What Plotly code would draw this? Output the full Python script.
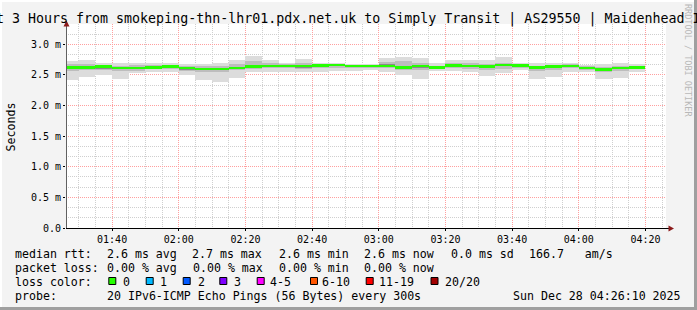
import plotly.graph_objects as go
import pandas as pd

# ---------------- data ----------------
end_times = ["01:30", "01:35", "01:40", "01:45", "01:50", "01:55", "02:00", "02:05", "02:10",
             "02:15", "02:20", "02:25", "02:30", "02:35", "02:40", "02:45", "02:50", "02:55",
             "03:00", "03:05", "03:10", "03:15", "03:20", "03:25", "03:30", "03:35", "03:40",
             "03:45", "03:50", "03:55", "04:00", "04:05", "04:10", "04:15", "04:20"]

median_ms = [2.62, 2.62, 2.64, 2.61, 2.61, 2.62, 2.64, 2.61, 2.595, 2.60, 2.61, 2.64, 2.645,
             2.65, 2.65, 2.655, 2.66, 2.65, 2.65, 2.645, 2.62, 2.65, 2.62, 2.655, 2.645, 2.64,
             2.665, 2.655, 2.62, 2.64, 2.65, 2.615, 2.585, 2.61, 2.62]

smoke_min = [2.42, 2.46, 2.50, 2.435, 2.53, 2.555, 2.54, 2.50, 2.41, 2.39, 2.445, 2.555, 2.555,
             2.555, 2.54, 2.555, 2.57, 2.57, 2.58, 2.555, 2.50, 2.43, 2.57, 2.57, 2.555, 2.484,
             2.527, 2.58, 2.43, 2.46, 2.555, 2.54, 2.43, 2.445, 2.555]
smoke_max = [2.72, 2.745, 2.69, 2.69, 2.69, 2.69, 2.70, 2.68, 2.68, 2.70, 2.745, 2.81, 2.745,
             2.70, 2.756, 2.69, 2.69, 2.68, 2.68, 2.77, 2.79, 2.77, 2.70, 2.745, 2.745, 2.745,
             2.79, 2.69, 2.70, 2.70, 2.70, 2.66, 2.68, 2.69, 2.68]

mid_lo = [2.57, 2.58, 2.58, 2.57, 2.57, 2.59, 2.59, 2.56, 2.55, 2.55, 2.58, 2.60, 2.61, 2.61,
          2.59, 2.62, 2.62, 2.62, 2.62, 2.61, 2.58, 2.58, 2.60, 2.62, 2.60, 2.58, 2.60, 2.62,
          2.57, 2.58, 2.62, 2.58, 2.55, 2.57, 2.59]
mid_hi = [2.68, 2.68, 2.66, 2.65, 2.66, 2.66, 2.67, 2.65, 2.64, 2.65, 2.68, 2.72, 2.69, 2.68,
          2.69, 2.67, 2.68, 2.67, 2.67, 2.71, 2.72, 2.70, 2.65, 2.69, 2.69, 2.68, 2.70, 2.67,
          2.65, 2.66, 2.68, 2.64, 2.63, 2.65, 2.65]

dark_lo = [2.60, 2.60, 2.60, 2.59, 2.59, 2.60, 2.61, 2.58, 2.575, 2.575, 2.59, 2.62, 2.63, 2.63,
           2.62, 2.64, 2.64, 2.64, 2.635, 2.63, 2.60, 2.61, 2.61, 2.64, 2.63, 2.61, 2.64, 2.64,
           2.60, 2.61, 2.635, 2.60, 2.57, 2.59, 2.605]
dark_hi = [2.64, 2.64, 2.655, 2.63, 2.63, 2.64, 2.655, 2.625, 2.61, 2.62, 2.635, 2.665, 2.665,
           2.665, 2.665, 2.67, 2.675, 2.665, 2.665, 2.68, 2.65, 2.67, 2.635, 2.67, 2.665, 2.66,
           2.68, 2.67, 2.635, 2.655, 2.665, 2.63, 2.60, 2.63, 2.635]

y_tick_vals = [0.0, 0.5, 1.0, 1.5, 2.0, 2.5, 3.0]
y_tick_text = ["0.0", "0.5 m", "1.0 m", "1.5 m", "2.0 m", "2.5 m", "3.0 m"]

title_text = ("Last 3 Hours from smokeping-thn-lhr01.pdx.net.uk to Simply Transit | "
              "AS29550 | Maidenhead IX")
rtt_stats = ["2.6 ms avg", "2.7 ms max", "2.6 ms min", "2.6 ms now", "0.0 ms sd", "166.7   am/s"]
loss_stats = ["0.00 % avg", "0.00 % max", "0.00 % min", "0.00 % now"]
loss_labels = ["0", "1", "2", "3", "4-5", "6-10", "11-19", "20/20"]
loss_colors = ["#26ff00", "#00b8ff", "#0059ff", "#7f00ff", "#ff00ff", "#ff5500", "#ff0000", "#a10000"]
probe_text = "20 IPv6-ICMP Echo Pings (56 Bytes) every 300s"
date_text = "Sun Dec 28 04:26:10 2025"

# ---------------- geometry ----------------
W, H = 697, 310
L, R, T, B = 66, 31, 24, 82
PW = W - L - R
PH = H - T - B
Y_MAX = 3.3316

def px(x):
    return (x - L) / PW

def py(y):
    return (H - B - y) / PH

day = "2025-12-28 "
ends = pd.to_datetime([day + t for t in end_times])
centers = ends - pd.Timedelta(minutes=2.5)
BAR_W = 5 * 60 * 1000

fig = go.Figure()
for lo, hi, col in [(smoke_min, smoke_max, "#dcdcdc"),
                    (mid_lo, mid_hi, "#bdbdbd"),
                    (dark_lo, dark_hi, "#8a8a8a")]:
    fig.add_trace(go.Bar(x=centers, base=lo, y=[h - l for l, h in zip(lo, hi)],
                         width=BAR_W, marker=dict(color=col, line=dict(width=0)),
                         hoverinfo="skip", showlegend=False))
fig.add_trace(go.Bar(x=centers, base=[m - 0.02 for m in median_ms], y=[0.04] * len(median_ms),
                     width=BAR_W, marker=dict(color="#26ff00", line=dict(width=0)),
                     hoverinfo="skip", showlegend=False))

MONO = "DejaVu Sans Mono"
fig.update_layout(
    width=W, height=H, margin=dict(l=L, r=R, t=T, b=B, pad=0),
    paper_bgcolor="#f3f3f3", plot_bgcolor="#ffffff",
    barmode="overlay", bargap=0, showlegend=False,
    font=dict(family=MONO, color="#000000"),
)
fig.update_xaxes(
    type="date", range=[day + "01:26:10", day + "04:26:10"],
    tick0=day + "00:00", dtick=20 * 60 * 1000, tickformat="%H:%M",
    showgrid=True, gridcolor="#ff9f9f", griddash="1px,1px", gridwidth=1,
    minor=dict(dtick=5 * 60 * 1000, tick0=day + "00:00", showgrid=True,
               gridcolor="#cfcfcf", griddash="1px,1px", gridwidth=1),
    ticks="outside", ticklen=2, tickcolor="#000000",
    showline=False, zeroline=False,
    tickfont=dict(family=MONO, size=10, color="#000000"),
)
fig.update_yaxes(
    range=[0, Y_MAX], tickmode="array", tickvals=y_tick_vals, ticktext=y_tick_text,
    showgrid=True, gridcolor="#ff9f9f", griddash="1px,1px", gridwidth=1,
    minor=dict(tickmode="linear", tick0=0, dtick=1 / 6, showgrid=True,
               gridcolor="#cfcfcf", griddash="1px,1px", gridwidth=1),
    ticks="outside", ticklen=2, tickcolor="#000000",
    showline=False, zeroline=False,
    tickfont=dict(family=MONO, size=10, color="#000000"),
)

ann = []

def text(x, y, s, size=11.6, anchor="left", color="#000000", angle=0):
    ann.append(dict(x=px(x), y=py(y), xref="paper", yref="paper", text=s, showarrow=False,
                    xanchor=anchor, yanchor="middle", borderpad=0, borderwidth=0,
                    textangle=angle, font=dict(family=MONO, size=size, color=color)))

text(-28.5, 18.5, title_text, size=13.3)
text(10.5, 127, "Seconds", size=11.6, anchor="center", angle=-90)
text(688, 60, "RRDTOOL / TOBI OETIKER", size=8.5, anchor="center", color="#b8b8b8", angle=90)

row_y = [254.3, 268.3, 281.7, 296.3]
text(15.3, row_y[0], "median rtt:")
for s, x in zip(rtt_stats, [107.3, 192.7, 279.3, 365, 451.7, 530]):
    text(x - 0.8, row_y[0], s)
text(15.3, row_y[1], "packet loss:")
for s, x in zip(loss_stats, [107.3, 193.3, 279.3, 365]):
    text(x - 0.8, row_y[1], s)
text(15.3, row_y[2], "loss color:")
sq_x = [108.3, 145.7, 182.7, 219.3, 256.7, 310, 365.7, 430.5]
lab_x = [123.3, 161, 198.3, 235, 270.7, 322.7, 379.7, 445.3]
shapes = []
for s, c, sx, lx in zip(loss_labels, loss_colors, sq_x, lab_x):
    text(lx - 0.8, row_y[2], s)
    shapes.append(dict(type="rect", xref="paper", yref="paper",
                       x0=px(sx + 0.5), x1=px(sx + 7.5), y0=py(277.5), y1=py(284.5),
                       fillcolor=c, line=dict(color="#000000", width=1)))
text(15.3, row_y[3], "probe:")
text(107.3 - 0.8, row_y[3], probe_text)
text(680.5, row_y[3], date_text, anchor="right")

# axis lines and arrows
shapes.append(dict(type="line", xref="paper", yref="paper", x0=px(66.5), x1=px(66.5),
                   y0=py(228), y1=py(24), line=dict(color="#606060", width=1)))
shapes.append(dict(type="line", xref="paper", yref="paper", x0=px(66), x1=px(670),
                   y0=py(228.5), y1=py(228.5), line=dict(color="#000000", width=1)))
shapes.append(dict(type="path", xref="paper", yref="paper",
                   path="M {} {} L {} {} L {} {} Z".format(px(63.5), py(26.5), px(69.5), py(26.5),
                                                          px(66.5), py(20.5)),
                   fillcolor="#8b1a1a", line=dict(width=0)))
shapes.append(dict(type="path", xref="paper", yref="paper",
                   path="M {} {} L {} {} L {} {} Z".format(px(668.5), py(225.5), px(668.5), py(231.5),
                                                          px(674), py(228.5)),
                   fillcolor="#8b1a1a", line=dict(width=0)))
# frame
shapes.append(dict(type="rect", xref="paper", yref="paper", x0=px(0), x1=px(W), y0=py(0), y1=py(2),
                   fillcolor="#ffffff", line=dict(width=0)))
shapes.append(dict(type="rect", xref="paper", yref="paper", x0=px(0), x1=px(2), y0=py(0), y1=py(H),
                   fillcolor="#ffffff", line=dict(width=0)))
shapes.append(dict(type="rect", xref="paper", yref="paper", x0=px(W - 3), x1=px(W), y0=py(0), y1=py(H),
                   fillcolor="#9f9f9f", line=dict(width=0)))
shapes.append(dict(type="rect", xref="paper", yref="paper", x0=px(0), x1=px(W), y0=py(H - 3), y1=py(H),
                   fillcolor="#9f9f9f", line=dict(width=0)))

fig.update_layout(annotations=ann, shapes=shapes)
fig.write_html("out.html")
